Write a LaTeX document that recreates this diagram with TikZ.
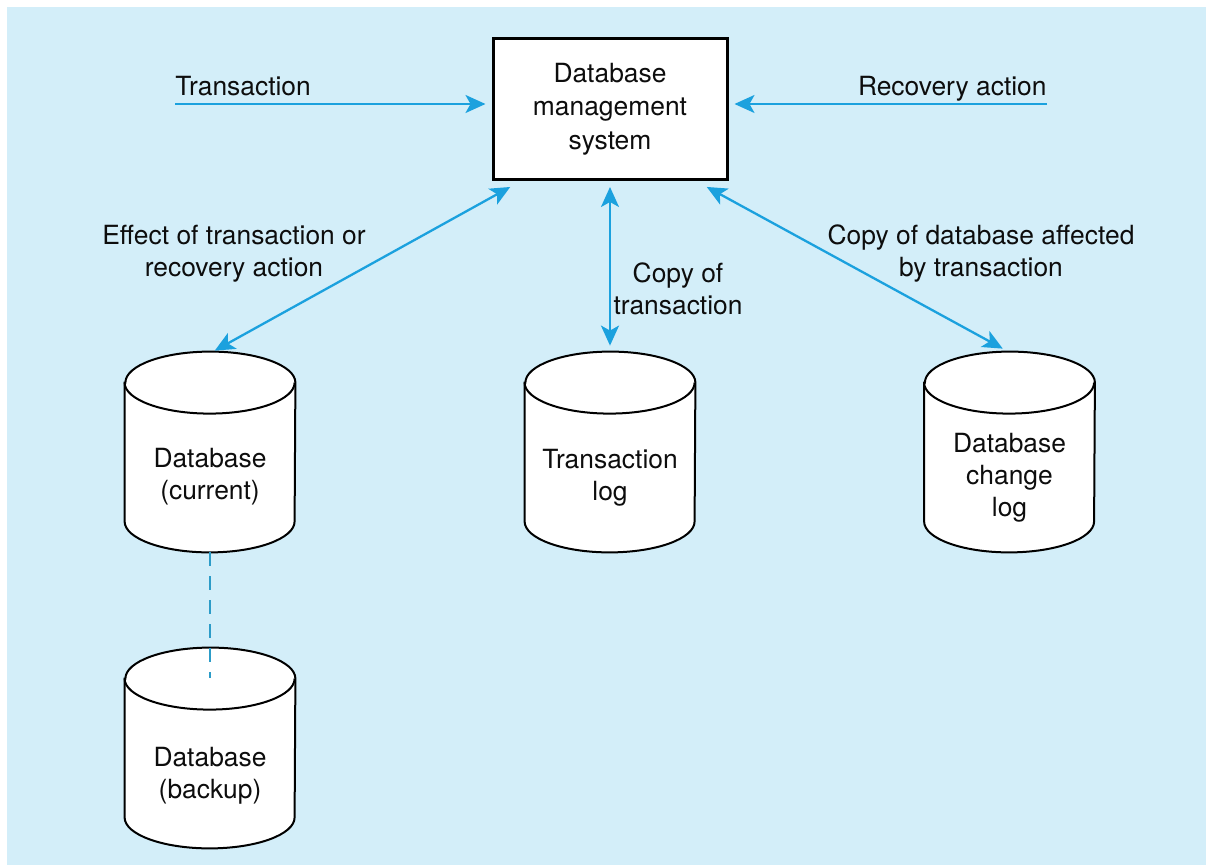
\documentclass[tikz,border=0pt]{standalone}
\usepackage{fontspec}
\setmainfont{TeX Gyre Heros}
\usetikzlibrary{arrows.meta,calc}
\definecolor{bgblue}{HTML}{D3EEF9}
\definecolor{arrblue}{HTML}{1BA1DE}
\definecolor{dashblue}{HTML}{2C9CC8}
\begin{document}
\begin{tikzpicture}[x=0.5pt,y=0.5pt,
  txt/.style={inner sep=0pt,align=center,font=\fontsize{13.2}{16}\selectfont,text=black!95},
  cylbox/.style={draw=none,inner sep=0pt,minimum width=85pt,minimum height=100pt},
  cylline/.style={line width=1pt,draw=black,fill=white},
  conn/.style={line width=1.15pt,draw=arrblue,{Stealth[length=10pt,width=9pt,inset=2.5pt]}-{Stealth[length=10pt,width=9pt,inset=2.5pt]},shorten <=1pt,shorten >=1pt},
  inarr/.style={line width=1.15pt,draw=arrblue,-{Stealth[length=10pt,width=9pt,inset=2.5pt]}},
  dbms/.style={draw=black,line width=1.5pt,fill=white,minimum width=117pt,minimum height=70.5pt,inner sep=0pt,align=center,font=\fontsize{13.2}{16.8}\selectfont,text=black!95}
]
\useasboundingbox (0,0) rectangle (1206,-865);
\fill[white] (0,0) rectangle (1206,-865);
\fill[bgblue] (7,-7) rectangle (1206,-865);

% DBMS box
\node[dbms] (dbms) at (610,-109) {Database\\management\\system};

% cylinders
\node[cylbox] (cur) at (210,-452) {};
\node[cylbox] (bak) at (210,-748) {};
\node[cylbox] (tlog) at (610,-452) {};
\node[cylbox] (clog) at (1009.5,-452) {};
\foreach \n in {cur,bak,tlog,clog}{
  \draw[cylline] ([yshift=-15.5pt]\n.north west) -- ([yshift=15.5pt]\n.south west)
     arc[start angle=180,end angle=360,x radius=42.5pt,y radius=15.5pt]
     -- ([yshift=-15.5pt]\n.north east)
     arc[start angle=0,end angle=180,x radius=42.5pt,y radius=15.5pt] -- cycle;
  \draw[line width=1pt] ([yshift=-15.5pt]\n.north west)
     arc[start angle=180,end angle=360,x radius=42.5pt,y radius=15.5pt];
}
\node[txt] (curt) at (210,-477) {Database\\(current)};
\node[txt] (bakt) at (210,-775.5) {Database\\(backup)};
\node[txt] (tlogt) at (610,-477.5) {Transaction\\log};
\node[txt] (clogt) at (1009.5,-478) {Database\\change\\log};

% dashed link
\coordinate (bakin) at ([yshift=-15pt]bak.north);
\draw[dashblue,line width=1pt,dash pattern=on 7pt off 5pt] (cur.south) -- (bakin);

% incoming arrows
\coordinate (tin) at (175,-104);
\coordinate (rin) at (1047,-104);
\draw[inarr] (tin) -- ([xshift=-3pt]tin -| dbms.west);
\draw[inarr] (rin) -- ([xshift=3pt]rin -| dbms.east);
\node[txt,anchor=base west] (tlab) at (175,-96) {Transaction};
\node[txt,anchor=base east] (rlab) at (1047,-96) {Recovery action};

% bidirectional arrows
\coordinate (d1) at ([xshift=-49pt,yshift=-2.5pt]dbms.south);
\coordinate (d2) at ([yshift=-2pt]dbms.south);
\coordinate (d3) at ([xshift=47.5pt,yshift=-2.5pt]dbms.south);
\draw[conn] (d1) -- ([xshift=1.5pt]cur.north);
\draw[conn] (d2) -- ([yshift=2pt]tlog.north);
\draw[conn] (d3) -- ([xshift=-2.5pt,yshift=1pt]clog.north);

% labels
\node[txt] (l1) at (234,-254) {Effect of transaction or\\recovery action};
\node[txt] (l2) at (678,-289) {Copy of\\transaction};
\node[txt] (l3) at (981,-254) {Copy of database affected\\by transaction};
\end{tikzpicture}
\end{document}
